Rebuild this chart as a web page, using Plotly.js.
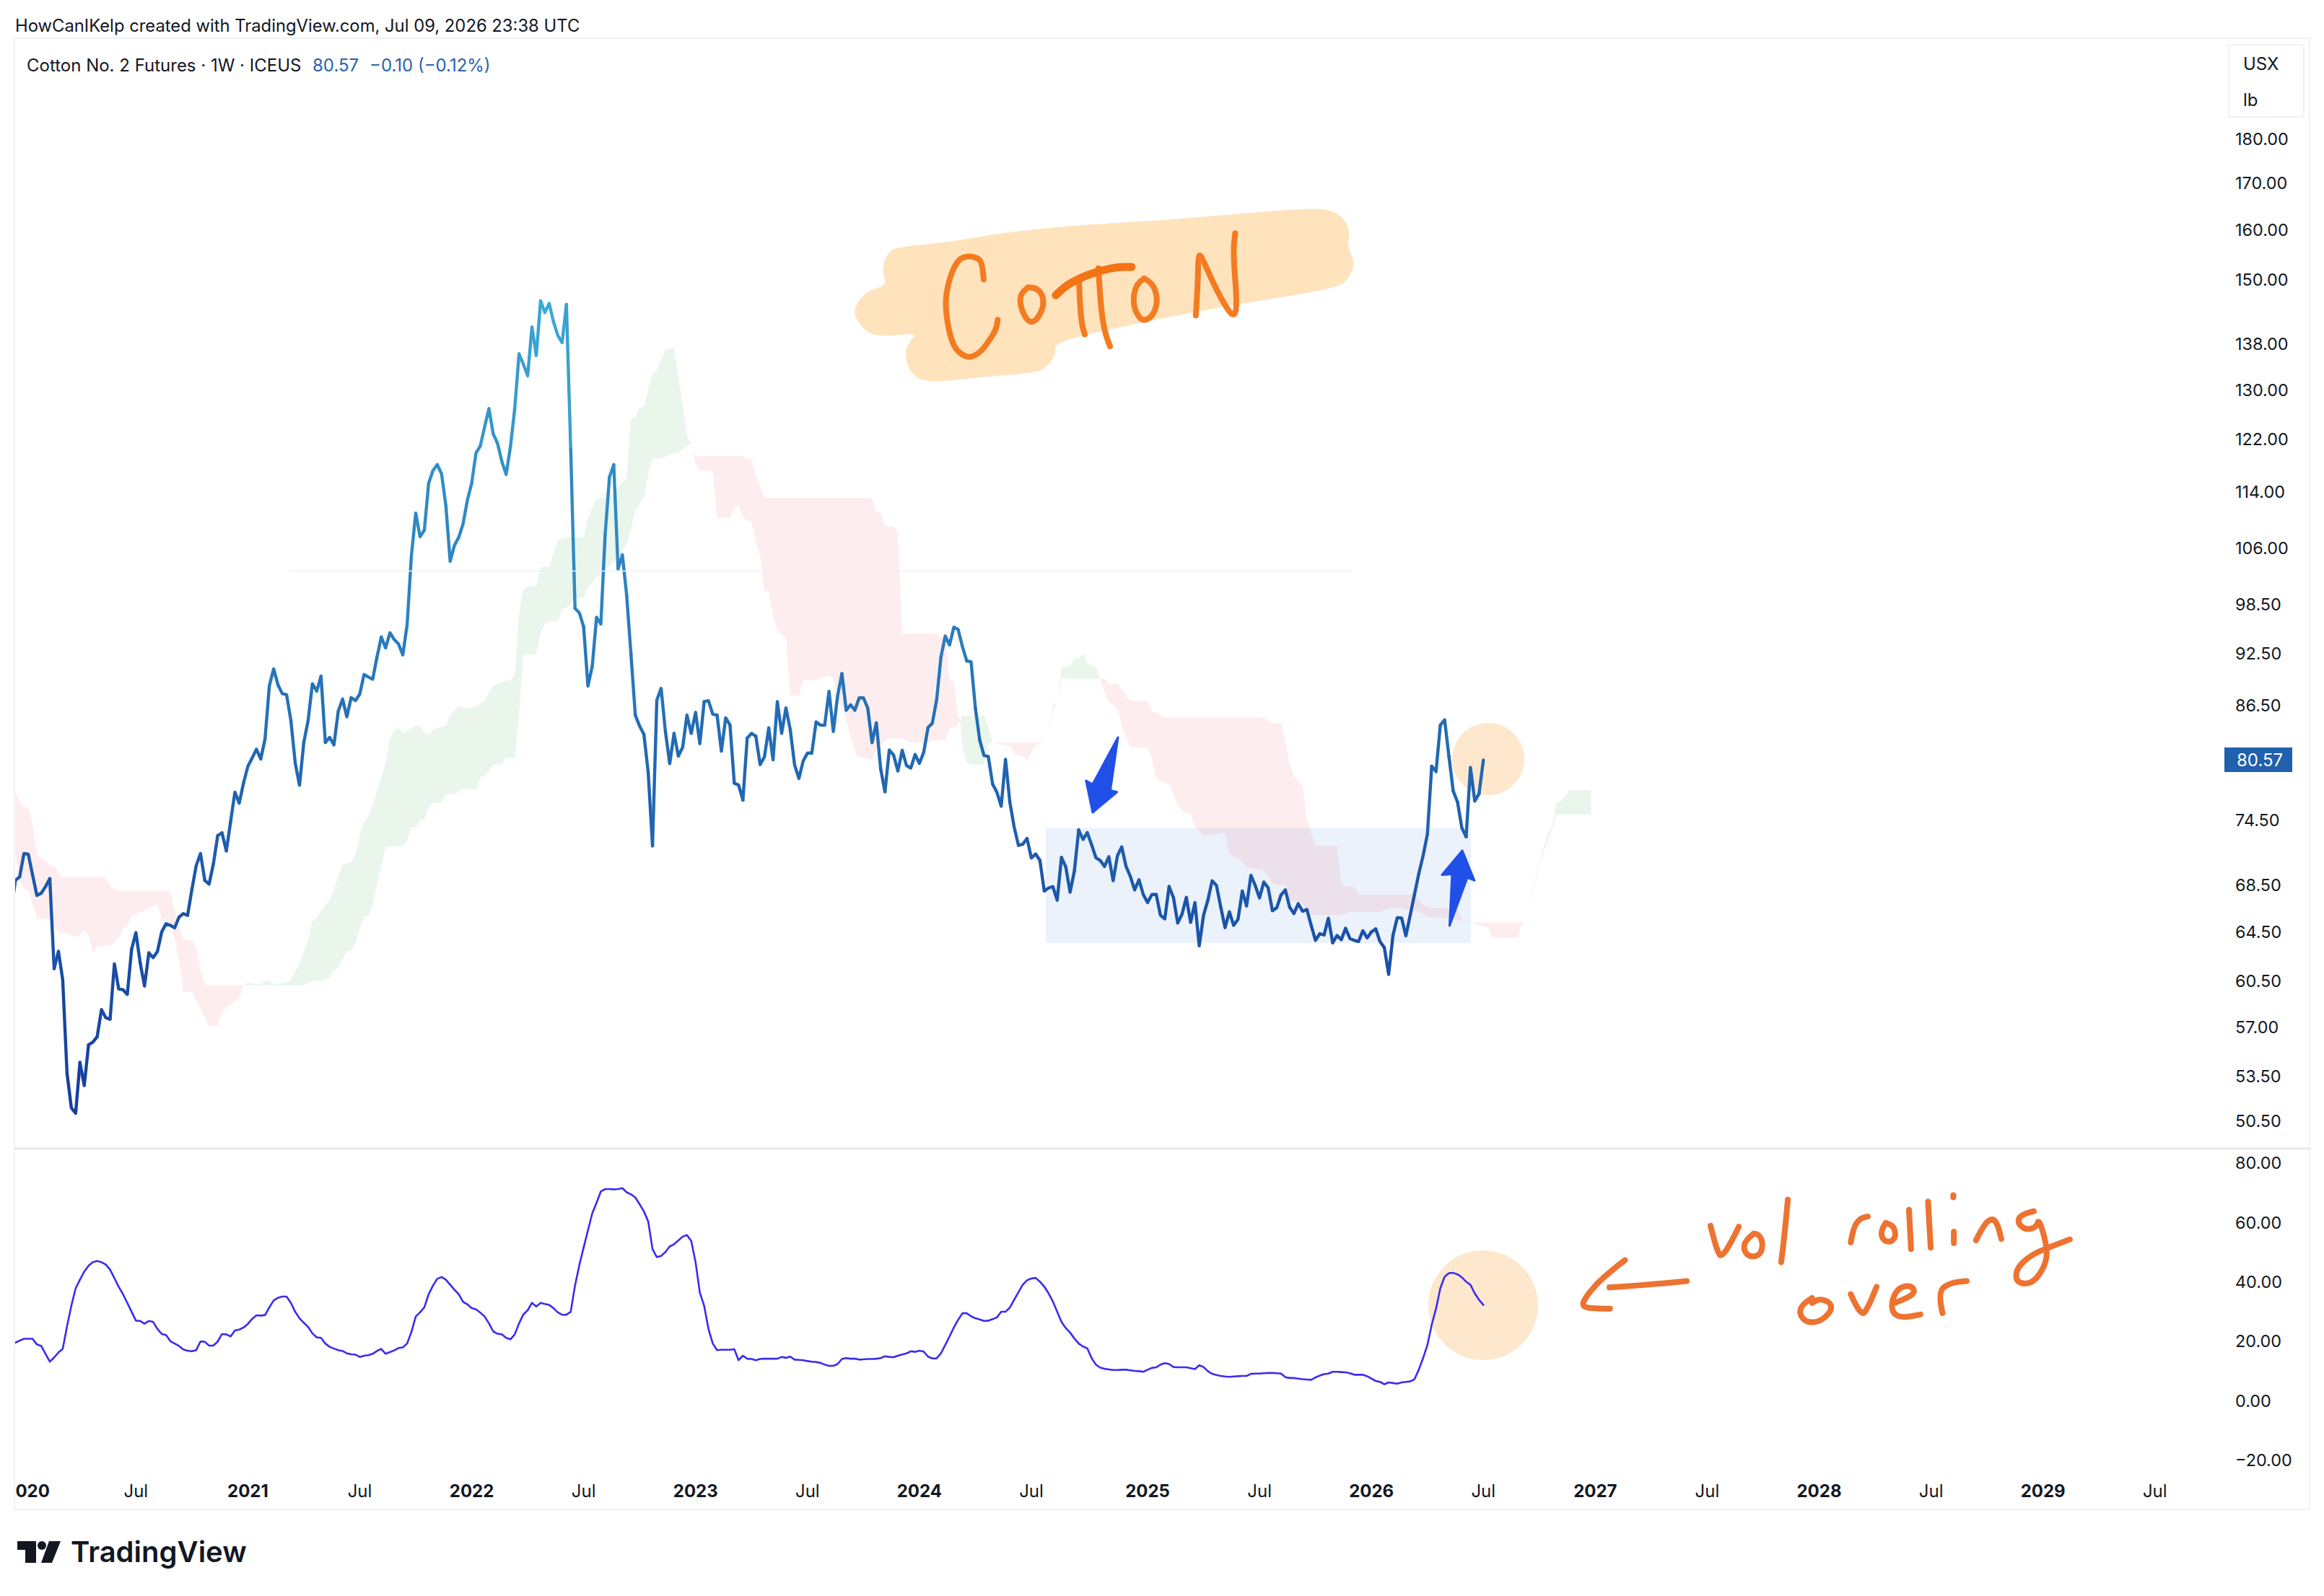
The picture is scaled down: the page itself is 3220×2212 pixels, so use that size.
<!DOCTYPE html>
<html><head><meta charset="utf-8">
<script src="https://cdn.plot.ly/plotly-3.0.1.min.js"></script>
<style>html,body{margin:0;padding:0;background:#fff}#c{width:3220px;height:2212px}</style>
</head><body><div id="c"></div>
<script>
// Weekly closes, first entry = week -1 (partly off the left edge), week 0 = 2019-12-23, last bar = 2026-07-06
const price = [66.2,
68.95,69.27,71.39,71.32,69.43,67.62,67.81,68.39,69.11,61.50,
62.89,60.62,53.70,51.37,51.0,54.47,52.87,55.73,55.92,56.32,
58.33,57.72,57.61,61.89,59.91,59.85,59.49,63.07,64.44,61.95,
60.13,62.77,62.39,62.89,64.50,65.18,65.05,64.84,65.74,66.05,
65.89,68.13,70.27,71.39,68.95,68.62,70.44,73.06,73.33,71.63,
74.41,77.29,76.20,78.22,79.91,80.78,81.71,80.67,82.82,88.72,
90.66,88.81,87.80,87.67,84.80,80.28,77.98,82.43,84.80,88.94,
88.10,89.80,82.43,82.97,82.16,85.83,87.19,85.21,87.36,87.02,
87.76,90.01,89.71,89.46,92.05,94.50,93.15,95.0,94.18,93.64,
92.32,96.0,105.0,110.9,107.6,108.5,115.3,117.2,118.1,116.7,
112.0,104.2,106.4,107.5,109.4,112.8,115.3,119.9,121.0,124.0,
127.0,122.9,121.4,118.6,116.6,120.9,127.0,136.3,134.5,132.5,
141.1,136.0,146.0,143.8,145.5,142.1,139.6,138.3,145.3,120.5,
98.05,97.5,95.75,88.68,90.96,96.9,96.1,107.9,116.2,118.1,
103.2,105.1,99.7,92.4,85.4,84.2,83.3,79.3,72.1,87.06,
88.4,83.6,80.2,83.4,81.0,81.9,85.4,83.4,85.7,82.3,
86.9,87.0,85.5,85.4,81.5,85.1,84.3,78.2,78.0,76.5,
82.9,83.4,83.1,80.1,80.9,84.0,80.6,86.9,83.4,86.2,
83.8,80.09,78.67,80.47,81.3,81.3,84.65,84.29,84.29,88.07,
83.6,87.57,90.11,85.93,86.55,85.93,87.32,87.32,86.17,82.40,
84.56,79.65,77.33,81.62,81.1,79.43,81.59,80.0,79.74,81.16,
80.23,81.39,84.04,84.5,87.1,92.05,94.6,93.5,95.7,95.4,
93.3,91.6,91.5,86.17,82.7,81.04,80.95,78.1,77.28,75.9,
80.65,76.3,73.9,72.15,72.25,72.8,70.98,71.35,70.75,68.0,
68.27,68.4,67.2,71.03,70.15,67.9,69.8,73.6,72.7,73.35,
72.2,71.0,70.75,70.2,71.1,68.92,71.18,72.0,70.2,69.3,
68.1,69.0,67.7,67.0,67.7,67.7,65.9,65.6,68.4,67.45,
65.25,66.0,67.45,65.3,67.0,63.35,65.9,67.2,68.92,68.5,
66.6,64.85,66.2,65.05,65.55,68.0,66.7,69.4,68.5,67.4,
68.8,68.3,66.3,66.55,67.65,68.1,66.6,66.05,66.9,66.25,
66.4,65.05,63.8,64.35,64.25,65.65,63.6,64.2,63.85,64.8,
63.95,63.8,63.7,64.6,64.0,64.5,64.75,63.7,63.2,61.05,
64.2,65.7,65.67,64.17,65.9,67.7,69.55,71.18,73.2,79.93,
79.37,84.29,84.88,80.95,77.4,76.3,73.8,72.95,79.8,76.4,
77.15,80.57];

const vol = [
19.6,20.3,20.9,20.9,20.9,19.0,18.5,15.85,13.2,14.6,
16.3,17.5,25.1,32.0,37.9,40.8,43.5,45.5,46.7,47.1,
46.7,45.9,44.2,41.3,38.4,35.9,33.0,30.0,27.0,26.9,
26.0,26.9,26.6,24.2,22.5,22.2,20.1,19.3,18.5,17.3,
16.9,16.7,17.1,20.0,19.9,18.6,18.6,20.0,22.5,22.4,
21.7,23.7,24.0,24.7,25.9,27.6,28.8,28.7,28.9,31.5,
33.8,34.7,35.1,35.1,33.0,30.0,27.8,26.3,24.9,22.7,
21.4,21.2,19.3,18.2,17.6,17.1,16.8,16.0,15.7,15.55,
14.8,15.2,15.4,15.85,16.8,17.5,15.85,16.4,17.0,17.8,
18.0,19.3,23.2,28.4,29.8,31.5,35.9,38.8,41.1,41.7,
40.8,39.1,37.4,35.9,33.3,32.5,31.2,30.8,29.7,28.4,
26.1,23.4,22.6,22.4,21.2,20.7,22.4,26.1,29.1,30.5,
33.0,31.8,33.0,32.6,32.3,31.2,29.8,29.0,29.0,30.0,
38.8,45.7,51.6,57.4,63.1,66.7,70.5,71.3,71.3,71.2,
71.3,71.6,70.2,69.5,68.5,66.2,63.8,60.4,51.1,48.4,
48.8,50.1,52.0,52.7,54.0,55.3,55.8,53.8,46.7,36.4,
32.0,24.2,19.3,17.1,17.2,17.2,17.2,17.4,13.7,15.2,
14.2,14.1,13.7,14.1,14.2,14.2,14.2,14.2,14.8,14.5,
14.9,13.9,13.8,13.7,13.4,13.2,13.1,12.8,12.2,11.8,
11.8,12.4,14.1,14.4,14.2,14.2,13.9,14.0,14.1,14.1,
14.2,14.4,15.0,14.8,14.7,15.2,15.6,16.0,16.7,16.5,
16.9,16.6,14.9,14.3,14.3,16.0,18.8,21.7,24.7,27.3,
29.5,29.5,28.5,27.8,27.4,26.9,27.0,27.5,28.1,30.0,
30.0,31.4,34.0,36.6,39.1,40.6,41.2,41.4,40.1,38.5,
36.2,33.5,30.0,26.6,24.5,23.0,21.0,19.3,18.3,17.7,
14.4,12.2,11.2,10.8,10.6,10.4,10.4,10.5,10.5,10.3,
10.1,10.0,9.8,10.5,11.1,11.3,12.2,12.7,12.4,11.4,
11.3,11.3,11.3,11.0,10.7,12.0,11.4,10.0,9.1,8.7,
8.4,8.2,8.1,8.2,8.3,8.4,8.4,9.1,9.2,9.2,
9.3,9.4,9.4,9.3,9.2,8.0,7.7,7.7,7.5,7.3,
7.2,7.1,7.9,8.5,9.0,9.2,9.8,9.8,9.7,9.6,
9.3,8.8,8.8,8.8,8.3,7.5,6.7,6.4,5.6,6.2,
6.0,5.8,6.2,6.4,6.55,7.3,10.5,14.4,18.8,25.6,
31.0,37.9,41.8,43.0,43.1,42.6,41.6,40.1,39.1,36.2,
34.0,32.3];

// Ichimoku cloud spans: week numbers and values
const spanAWeeks = [0,1,2,3,4,5,8,9,10,12,14,15,16,17,18,19,21,22,24,25,26,27,29,30,32,33,34,35,36,37,38,39,41,43,45,47,48,50,52,53,
54,56,57,58,59,60,63,64,66,67,68,69,70,72,73,74,75,76,78,79,80,81,82,83,85,86,87,88,89,90,91,93,94,95,96,97,98,100,101,103,105,107,109,110,111,113,114,115,116,117,118,119,121,122,124,126,129,132,133,135,138,142,143,144,145,146,148,149,151,153,155,156,157,
158,159,161,162,163,166,167,168,169,170,171,172,173,174,175,176,177,179,180,182,183,186,187,189,190,191.5,192.4,193.4,194.5,195.4,199,200,203,206,208,212,214,216,217,218.5,219.5,
220,225,226,227,229,231,232,234,235,237,239,
240,241,242,243,245,246,247,248,249,251,252,
253,254,256,257,259,263,264,265,267,268,270,271,273,274,276,280,281,282,283,285,286,288,290,291,292,295,296,299,300,308,310,317,319,321,323,326,328,331,335,338,342,343,345,349,350,350.5,
353,354,356,357,358,359,361,366];
const spanA = [71.1,68.9,68.2,68.1,66.8,65.6,65.6,65.0,64.4,64.4,64.1,64.2,64.6,64.2,62.8,63.3,63.4,63.3,64.0,64.8,65.0,65.9,66.2,66.3,66.7,66.9,65.5,65.6,65.0,64.0,62.2,59.7,59.7,58.4,57.1,57.1,58.2,58.7,59.2,60.2,
60.4,60.3,60.3,60.55,60.6,60.25,60.4,60.6,61.9,62.95,63.7,65.4,65.7,66.8,67.2,68.1,69.3,70.4,70.6,71.3,73.0,74.4,75.0,76.0,78.8,80.3,82.8,83.7,84.0,83.4,83.7,84.2,84.2,83.4,83.3,83.7,84.0,84.2,85.4,86.4,86.1,86.4,87.0,87.9,88.7,89.1,89.3,89.3,90.0,97.4,100.5,100.9,100.9,103.4,103.5,107.1,107.6,107.4,110.2,113.0,113.3,116.1,125.2,125.6,127.2,127.2,132.9,133.4,137.0,137.3,127.6,122.5,121.3,
118.4,117.2,117.2,117.0,110.3,110.3,111.8,112.0,110.5,109.8,109.8,106.9,104.9,100.3,100.3,97.2,95.3,94.4,87.6,87.6,89.4,89.3,89.7,89.8,89.6,86.6,85.9,84.1,82.2,81.0,80.6,81.8,82.9,82.9,82.4,82.4,82.7,82.7,83.9,84.1,84.8,
85.3,85.3,84.1,82.4,82.2,82.1,81.2,81.0,80.6,82.1,82.4,
83.6,86.5,86.9,90.9,91.0,91.9,91.9,92.5,91.3,90.9,89.5,
88.0,86.9,86.1,84.1,81.9,81.9,80.65,78.8,78.2,78.1,76.0,75.5,75.1,73.9,73.1,73.3,73.3,71.3,71.1,70.6,70.1,70.0,69.8,69.3,68.6,68.5,67.2,67.0,65.9,65.9,66.2,66.2,66.5,66.55,66.4,66.25,65.75,65.7,65.5,65.25,64.9,64.1,64.0,64.05,65.2,65.3,
68.9,70.6,73.2,74.0,76.3,76.4,77.5,77.5];

const spanBWeeks = [0,1,2,3,4,5,6,7,8,9,10,11,21,22,24,36,37,38,39,41,42,43,44,53,
60,67,69,71,73,74,75,76,77,78,79,80,81,82,83,84,85,86,90,91,92,93,94,95,96,97,99,100,102,104,107,108,109,110,111,113,114,116,117,118,121,122,123,124,126,127,128,130,132,133,134,135,140,142,143,144,146,147,148,150,152,154,156,157,
158,169,170,171,172,173,174,199,200,201,202,204,205,206,214,215,216,217,218,219,219.5,
220,221,222,225,226,227,238,239,
240,241,242,243,252,
253,254,256,258,259,263,264,265,267,290,292,294,295,296,297,299,300,302,307,308,309,311,312,325,327,329,335,336,338,350,350.5,
353,354,356,357,358,366];
const spanB = [77.35,76.35,75.8,75.8,74.2,71.3,70.85,70.8,70.27,70.27,69.6,69.27,69.27,68.5,68.0,68.0,66.2,65.1,63.9,63.75,63.2,61.35,60.2,60.2,
60.2,60.2,60.55,60.55,60.8,61.35,61.6,62.25,62.9,62.95,63.55,64.8,65.75,65.85,66.85,68.6,70.25,72.05,72.1,72.6,73.85,73.85,74.5,74.65,75.8,76.2,76.2,77.05,77.1,77.6,77.6,78.8,79.0,79.4,80.1,80.1,80.8,80.8,85.6,92.3,92.4,95.0,96.1,96.45,96.45,98.0,98.05,99.3,99.5,100.7,101.4,102.1,104.6,106.6,108.7,111.2,113.3,116.6,119.0,119.0,119.7,120.0,121.0,121.3,
119.4,119.4,118.9,118.9,116.6,114.9,113.1,113.1,111.1,111.1,109.0,109.0,108.3,94.9,94.9,94.4,94.4,89.3,89.3,85.3,84.8,
82.0,80.3,80.1,80.1,82.4,82.4,82.4,82.4,
83.6,85.9,86.9,89.5,89.5,
89.5,88.9,88.9,87.6,87.0,87.0,85.7,85.7,85.1,85.1,84.5,84.5,82.4,80.1,79.0,77.9,74.6,72.1,72.1,68.7,68.4,68.4,67.7,67.7,66.8,66.5,66.5,65.55,65.3,65.3,65.3,
68.7,70.4,72.6,73.7,75.1,75.1];

const cloudTwists = [0,53,157,219.5,227,239,252,350.5,366];
const cloudColors = ['rgba(247,82,85,0.1)','rgba(50,160,70,0.1)'];

const priceTicks = [180,170,160,150,138,130,122,114,106,98.5,92.5,86.5,74.5,68.5,64.5,60.5,57,53.5,50.5];
const volTicks = [80,60,40,20,0,-20];
const yearTicks = ['2020-01-20','2021-01-04','2022-01-03','2023-01-02','2024-01-01','2025-01-06','2026-01-05','2027-01-04','2028-01-03','2029-01-01'];
const yearLabels = ['020','2021','2022','2023','2024','2025','2026','2027','2028','2029'];
const julyTicks = ['2020-07-06','2021-07-05','2022-07-04','2023-07-03','2024-07-01','2025-07-07','2026-07-06','2027-07-05','2028-07-03','2029-07-02'];

// ---- helpers
const DAY=864e5, T0=Date.UTC(2019,11,23);
const iso=ms=>new Date(ms).toISOString().slice(0,19).replace('T',' ');
const wk=w=>iso(T0+w*7*DAY);
const W=3220,H=2212,L=20,R=3096,TOP=53,MID=1592,BOT=2040,PXDAY=0.8521,X0=21.3;
const pw=R-L, ph=BOT-TOP;
const PX=x=>(x-L)/pw, PY=y=>(BOT-y)/ph;
const stroke=(pts)=>{
  let d='M'+PX(pts[0][0])+','+PY(pts[0][1]);
  for(let i=1;i<pts.length-1;i++){
    const m=[(pts[i][0]+pts[i+1][0])/2,(pts[i][1]+pts[i+1][1])/2];
    d+=' Q'+PX(pts[i][0])+','+PY(pts[i][1])+' '+PX(m[0])+','+PY(m[1]);
  }
  const e=pts[pts.length-1]; d+=' L'+PX(e[0])+','+PY(e[1]);
  return d;
};
const poly=pts=>'M'+pts.map(p=>PX(p[0])+','+PY(p[1])).join(' L')+' Z';

// ---- traces
const traces=[];
for(let k=0;k<cloudTwists.length-1;k++){
  const a=cloudTwists[k],b=cloudTwists[k+1];
  const xs=[],ys=[];
  spanAWeeks.forEach((w,i)=>{if(w>=a&&w<=b){xs.push(wk(w));ys.push(spanA[i]);}});
  const bx=[],by=[];
  spanBWeeks.forEach((w,i)=>{if(w>=a&&w<=b){bx.push(wk(w));by.push(spanB[i]);}});
  traces.push({type:'scatter',mode:'none',x:xs.concat(bx.reverse()),y:ys.concat(by.reverse()),fill:'toself',
    fillcolor:cloudColors[k%2],hoverinfo:'skip',showlegend:false,xaxis:'x',yaxis:'y',line:{width:0}});
}
const stops=[[50,[22,60,158]],[65,[27,83,168]],[80,[33,103,178]],[95,[42,125,190]],[120,[50,145,200]],[146,[60,170,214]]];
const colorOf=v=>{
  for(let i=0;i<stops.length-1;i++){ if(v<=stops[i+1][0]){
    const t=Math.max(0,(v-stops[i][0])/(stops[i+1][0]-stops[i][0]));
    const c=stops[i][1].map((s,j)=>Math.round(s+(stops[i+1][1][j]-s)*t));
    return 'rgb('+c.join(',')+')';}}
  return 'rgb(60,170,214)';
};
const band=v=>Math.floor(Math.log(v/45)/0.04);
let run=null;
const pushRun=()=>{ if(run) traces.push({type:'scatter',mode:'lines',x:run.x,y:run.y,line:{color:colorOf(run.v),width:4.4,simplify:false},hoverinfo:'skip',showlegend:false,xaxis:'x',yaxis:'y'}); };
for(let i=0;i<price.length-1;i++){
  const m=(price[i]+price[i+1])/2,b=band(m);
  if(!run||run.b!==b){pushRun();run={b:b,v:45*Math.exp((b+0.5)*0.04),x:[wk(i-1)],y:[price[i]]};}
  run.x.push(wk(i));run.y.push(price[i+1]);
}
pushRun();
traces.push({type:'scatter',mode:'lines',x:vol.map((_,i)=>wk(i)),y:vol,line:{color:'#3a2cf0',width:2.6,simplify:false},hoverinfo:'skip',showlegend:false,xaxis:'x2',yaxis:'y2'});

// ---- decorations
const BORDER='#f0f1f3';
const seg=(x0,y0,x1,y1,c,w)=>({type:'line',xref:'paper',yref:'paper',x0:PX(x0),y0:PY(y0),x1:PX(x1),y1:PY(y1),line:{color:c,width:w},layer:'above'});
const PEACH='#fde8cd', OR='#f47b20', OR2='#ee7230', BLUE='#2050e8';
const pathS=(d,c,w,fill,layer)=>({type:'path',xref:'paper',yref:'paper',path:d,line:{color:c,width:w},fillcolor:fill||'rgba(0,0,0,0)',layer:layer||'above'});
const circ=(cx,cy,r)=>({type:'circle',xref:'paper',yref:'paper',x0:PX(cx-r),x1:PX(cx+r),y0:PY(cy+r),y1:PY(cy-r),fillcolor:PEACH,line:{width:0},layer:'below'});
const z4=p=>[1100+p[0]/1.742,250+p[1]/3];
const z3=p=>[1100+p[0]/1.4255,800+p[1]/2.613];
const z7=p=>[2100+p[0]/1.4,1580+p[1]/2.481];
const highlight=[[270,275],[380,255],[480,225],[580,203],[700,185],[900,165],[1100,135],[1230,117],[1290,120],[1325,150],[1343,215],[1335,272],[1355,340],[1340,410],[1310,445],[1200,480],[1000,535],[800,605],[630,672],[632,720],[615,770],[585,800],[450,818],[350,838],[300,830],[275,780],[268,715],[280,665],[300,635],[210,650],[175,630],[150,580],[145,535],[160,490],[180,460],[225,435],[213,380],[220,320],[240,285]].map(z4);
const cottonStrokes=[
 [[458,412],[455,340],[440,320],[420,315],[400,325],[385,365],[372,430],[365,510],[372,610],[385,690],[405,725],[425,738],[450,715],[470,670],[488,620],[492,580]],
 [[565,445],[550,465],[545,500],[552,550],[565,585],[578,590],[592,565],[603,520],[600,475],[585,448],[565,445]],
 [[688,410],[690,510],[695,600],[702,640]],
 [[735,365],[740,520],[750,630],[763,690]],
 [[845,408],[825,430],[818,510],[830,565],[845,585],[865,565],[878,510],[872,450],[858,420],[845,408]],
 [[970,562],[975,430],[976,305],[985,320],[1010,420],[1040,520],[1062,570],[1070,520],[1060,300],[1065,220]]
].map(s=>s.map(z4));
const cottonBar=[[632,478],[650,445],[690,405],[735,378],[780,360],[815,360]].map(z4);
const noteStrokes=[
 [[212,413],[170,470],[135,540],[128,575],[160,580],[183,580]],
 [[182,507],[260,497],[332,485]],
 [[378,295],[392,395],[402,398],[420,345],[433,298]],
 [[462,322],[445,345],[442,380],[455,403],[475,395],[480,355],[472,325],[462,322]],
 [[528,205],[522,320],[515,420]],
 [[650,352],[655,300],[668,270],[683,263]],
 [[718,285],[708,310],[712,345],[728,352],[738,330],[733,295],[718,285]],
 [[763,240],[767,375]],[[800,212],[805,370]],[[850,315],[850,355]],[[849,190],[849,197]],
 [[893,345],[908,290],[925,268],[935,290],[942,340]],
 [[1005,245],[980,255],[973,285],[990,310],[1010,300],[1015,270],[1030,360],[1030,420],[1010,480],[990,497],[970,485],[972,440],[1000,395],[1040,365],[1075,342]],
 [[575,543],[555,565],[550,600],[565,628],[590,625],[612,590],[612,560],[590,545],[575,560]],
 [[650,530],[670,612],[685,570],[700,505]],
 [[735,560],[775,535],[770,500],[745,505],[730,545],[730,595],[750,612],[785,600]],
 [[828,595],[818,520],[845,490],[875,485]]
].map(s=>s.map(z7));
const downArrow=[[640,580],[590,750],[577,737],[590,852],[638,778],[625,772]].map(z3);
const upArrow=[[1295,1262],[1300,1075],[1280,1078],[1320,990],[1344,1098],[1330,1088]].map(z3);

const shapes=[
 pathS(stroke(highlight)+' Z','rgba(0,0,0,0)',0,'#fee3bd','below'),
 circ(2062,1052,50),circ(2055,1809,76),
 {type:'rect',xref:'paper',yref:'paper',x0:PX(1449),x1:PX(2038),y0:PY(1307),y1:PY(1147.5),fillcolor:'#ebf2fc',line:{width:0},layer:'below'},
 seg(400,791.5,1873,791.5,'#eef2f2',1.5),
 seg(L,TOP,3200,TOP,BORDER,2),seg(L,TOP,L,2092,BORDER,2),seg(3200,TOP,3200,2092,BORDER,2),seg(L,2092,3200,2092,BORDER,2),seg(L,MID,3200,MID,'#e8e9ec',3),
 {type:'rect',xref:'paper',yref:'paper',x0:PX(3088),x1:PX(3192),y0:PY(162),y1:PY(62),line:{color:'#f0f1f3',width:2},fillcolor:'rgba(255,255,255,0)',layer:'above'},
 {type:'rect',xref:'paper',yref:'paper',x0:PX(3082),x1:PX(3176),y0:PY(1070),y1:PY(1036),fillcolor:'#2060ac',line:{width:0},layer:'above'},
 pathS(poly(downArrow),BLUE,3,BLUE),pathS(poly(upArrow),BLUE,3,BLUE),
 ...cottonStrokes.map(s=>pathS(stroke(s),OR,8)),
 pathS(stroke(cottonBar),'#f27415',11),
 ...noteStrokes.map(s=>pathS(stroke(s),OR2,8)),
 pathS(poly([[24,2136],[50,2136],[50,2166],[35,2166],[35,2148],[24,2148]]),'#131722',0,'#131722'),
 {type:'circle',xref:'paper',yref:'paper',x0:PX(52),x1:PX(64),y0:PY(2148),y1:PY(2136),fillcolor:'#131722',line:{width:0},layer:'above'},
 pathS(poly([[68,2136],[84,2136],[72,2166],[57,2166]]),'#131722',0,'#131722')
];
const FONT='Inter, "Noto Sans", sans-serif';
const txt=(x,y,t,size,color,extra)=>Object.assign({xref:'paper',yref:'paper',x:PX(x),y:PY(y),text:t,showarrow:false,xanchor:'left',yanchor:'middle',align:'left',borderpad:0,font:{family:FONT,size:size,color:color}},extra||{});
const annotations=[
 txt(20,36,'HowCanIKelp created with TradingView.com, Jul 09, 2026 23:38 UTC',23.8,'#131722'),
 txt(36,90,'Cotton No. 2 Futures · 1W · ICEUS',24,'#131722'),
 txt(432,90,'80.57',24,'#2962ab'),
 txt(511,90,'−0.10 (−0.12%)',24,'#2962ab'),
 txt(3107,88,'USX',24,'#131722'),
 txt(3107,138,'lb',24,'#131722'),
 txt(3098,1053,'80.57',24,'#ffffff'),
 Object.assign(txt(97,2150,'TradingView',40,'#131722'),{font:{family:FONT,size:40,color:'#131722',weight:600}})
];

const days=(x)=>(x-X0)/PXDAY;
const xr=[iso(T0+days(L)*DAY),iso(T0+days(R)*DAY)];
const tv=[...yearTicks,...julyTicks];
const tt=[...yearLabels.map(s=>'<b>'+s+'</b>'),...julyTicks.map(()=> 'Jul')];
const AXF={family:FONT,size:23.4,color:'#131722'};
const layout={
 width:W,height:H,margin:{l:L,r:W-R,t:TOP,b:H-BOT,pad:0},paper_bgcolor:'#fff',plot_bgcolor:'rgba(0,0,0,0)',showlegend:false,hovermode:false,
 font:{family:FONT,size:24,color:'#131722'},
 xaxis:{type:'date',range:xr,domain:[0,1],anchor:'y',showticklabels:false,showgrid:false,zeroline:false,showline:false,ticks:''},
 xaxis2:{type:'date',range:xr,domain:[0,1],anchor:'y2',matches:'x',tickmode:'array',tickvals:tv,ticktext:tt,showgrid:false,zeroline:false,showline:false,ticks:'',tickfont:{family:FONT,size:24,color:'#131722'},tickangle:0,ticklabelstandoff:10},
 yaxis:{type:'log',domain:[PY(MID),1],anchor:'x',side:'right',range:[Math.log10(48.72),Math.log10(205.1)],tickmode:'array',tickvals:priceTicks,ticktext:priceTicks.map(v=>v.toFixed(2)),showgrid:false,zeroline:false,showline:false,ticks:'',tickfont:AXF},
 yaxis2:{domain:[0,PY(MID)],anchor:'x2',side:'right',range:[-23.9,84.9],tickmode:'array',tickvals:volTicks,ticktext:volTicks.map(v=>(v<0?'−':'')+Math.abs(v).toFixed(2)),showgrid:false,zeroline:false,showline:false,ticks:'',tickfont:AXF},
 shapes:shapes,annotations:annotations
};
Plotly.newPlot('c',traces,layout,{staticPlot:true,displayModeBar:false}).then(()=>{
  document.querySelectorAll('.js-line').forEach(p=>{p.style.strokeLinecap='round';p.style.strokeLinejoin='round';});
  document.querySelectorAll('.shapelayer path').forEach(p=>{p.style.strokeLinecap='round';p.style.strokeLinejoin='round';});
});
</script></body></html>
